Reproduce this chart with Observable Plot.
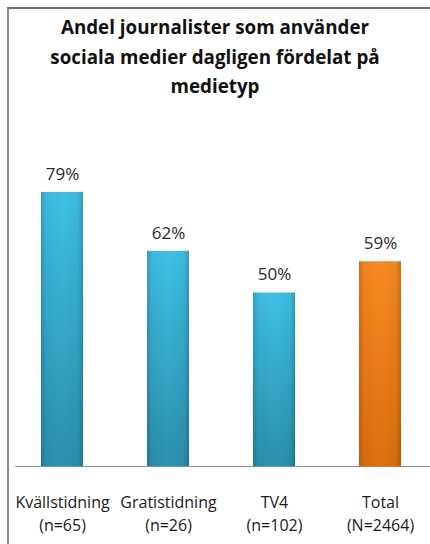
<!DOCTYPE html>
<html>
<head>
<meta charset="utf-8">
<script src="https://cdn.jsdelivr.net/npm/d3@7"></script>
<script src="https://cdn.jsdelivr.net/npm/@observablehq/plot@0.6"></script>
<style>
  html, body { margin: 0; padding: 0; background: #fff; }
  #wrap { position: relative; width: 430px; height: 544px; overflow: hidden; font-family: "Open Sans", sans-serif; }
  #frame { position: absolute; left: 7px; top: 7px; width: 440px; height: 560px; border-top: 2px solid #6f6f6f; border-left: 2px solid #8a8a8a; box-sizing: border-box; }
  #title { position: absolute; left: 0; width: 430px; top: 13px; text-align: center; font-weight: 700; font-size: 18.8px; line-height: 29.5px; color: #111; }
  #chart { position: absolute; left: 0; top: 0; }
</style>
</head>
<body>
<div id="wrap">
  <div id="frame"></div>
  <div id="chart"></div>
  <div id="title">Andel journalister som använder<br>sociala medier dagligen fördelat på<br>medietyp</div>
</div>
<script>
const categories = ["Kvällstidning", "Gratistidning", "TV4", "Total"];
const sampleLabels = ["(n=65)", "(n=26)", "(n=102)", "(N=2464)"];
const values = [79, 62, 50, 59];
const isTotal = [false, false, false, true];

const data = categories.map((c, i) => ({cat: c, n: sampleLabels[i], value: values[i], total: isTotal[i]}));

const plot = Plot.plot({
  width: 430,
  height: 544,
  marginLeft: 15,
  marginRight: 0,
  style: {fontFamily: "'Open Sans', sans-serif", background: "transparent"},
  x: {domain: categories, range: [8, 435], paddingInner: 0.6, paddingOuter: 0.3, axis: null},
  y: {domain: [0, 100], range: [466, 119], axis: null},
  color: {type: "identity"},
  marks: [
    Plot.barY(data, {x: "cat", y: "value", fill: d => d.total ? "url(#gOrange)" : "url(#gBlue)"}),
    Plot.barY(data, {x: "cat", y: "value", fill: () => "url(#gShade)"}),
    Plot.ruleY([0], {stroke: "#8c8c8c", strokeWidth: 1.2}),
    Plot.text(data, {x: "cat", y: "value", text: d => `${d.value}%`, dy: -18, fontSize: 17, fill: "#2a2a2a"}),
    Plot.text(data, {x: "cat", y: 0, text: d => `${d.cat}\n${d.n}`, lineAnchor: "top", dy: 25, fontSize: 16, lineHeight: 1.44, fill: "#1a1a1a"})
  ]
});

const svg = d3.select(plot);
const defs = svg.insert("defs", ":first-child");
function grad(id, top, bottom) {
  const g = defs.append("linearGradient").attr("id", id).attr("x1", 0).attr("y1", 0).attr("x2", 0).attr("y2", 1);
  g.append("stop").attr("offset", "0%").attr("stop-color", top);
  g.append("stop").attr("offset", "100%").attr("stop-color", bottom);
}
grad("gBlue", "#3ec0e6", "#2a91ae");
grad("gOrange", "#f88a20", "#de6f0e");
const sh = defs.append("linearGradient").attr("id", "gShade").attr("x1", 0).attr("y1", 0).attr("x2", 1).attr("y2", 0);
[[0, 0.18], [0.12, 0.04], [0.5, 0], [0.88, 0.04], [1, 0.2]].forEach(([o, a]) =>
  sh.append("stop").attr("offset", o).attr("stop-color", "#000").attr("stop-opacity", a));

document.getElementById("chart").appendChild(plot);
</script>
</body>
</html>
